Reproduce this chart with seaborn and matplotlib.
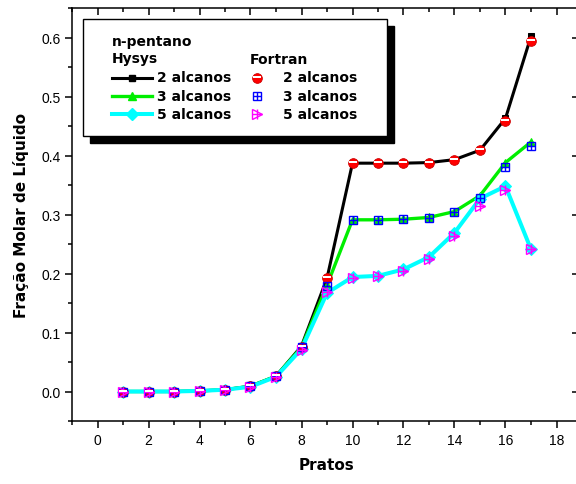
import matplotlib
matplotlib.use("Agg")
import matplotlib.pyplot as plt
import matplotlib.lines as mlines
import seaborn as sns
import pandas as pd
from matplotlib.lines import Line2D
from matplotlib.patches import Rectangle
from matplotlib.path import Path
from matplotlib.ticker import MultipleLocator, FormatStrFormatter

# Plate number along the column
pratos = list(range(1, 18))

# Liquid mole fraction of n-pentane, Hysys simulation
hysys_2 = [0.000, 0.000, 0.000, 0.001, 0.003, 0.009, 0.026, 0.077, 0.192,
           0.387, 0.387, 0.387, 0.388, 0.393, 0.409, 0.463, 0.602]
hysys_3 = [0.000, 0.000, 0.000, 0.001, 0.003, 0.009, 0.026, 0.075, 0.180,
           0.291, 0.291, 0.292, 0.295, 0.305, 0.332, 0.388, 0.423]
hysys_5 = [0.000, 0.000, 0.000, 0.001, 0.003, 0.008, 0.025, 0.072, 0.167,
           0.194, 0.196, 0.207, 0.228, 0.269, 0.327, 0.348, 0.241]

# Liquid mole fraction of n-pentane, Fortran program
fortran_2 = [0.000, 0.000, 0.000, 0.001, 0.003, 0.009, 0.026, 0.076, 0.193,
             0.387, 0.387, 0.387, 0.388, 0.392, 0.409, 0.458, 0.594]
fortran_3 = [0.000, 0.000, 0.000, 0.001, 0.003, 0.009, 0.026, 0.075, 0.179,
             0.291, 0.291, 0.292, 0.294, 0.304, 0.328, 0.380, 0.416]
fortran_5 = [0.000, 0.000, 0.000, 0.001, 0.003, 0.008, 0.025, 0.071, 0.168,
             0.193, 0.196, 0.205, 0.225, 0.263, 0.315, 0.341, 0.241]

series_labels = ["2 alcanos", "3 alcanos", "5 alcanos"]
x_ticks = [0, 2, 4, 6, 8, 10, 12, 14, 16, 18]

df = pd.DataFrame({"Pratos": pratos,
                   "h2": hysys_2, "h3": hysys_3, "h5": hysys_5,
                   "f2": fortran_2, "f3": fortran_3, "f5": fortran_5})

plt.rcParams["font.family"] = ["Liberation Sans", "DejaVu Sans"]
plt.rcParams["axes.linewidth"] = 1.1

W, H = 576, 485
fig = plt.figure(figsize=(W / 100, H / 100), dpi=100)


def fx(px):
    return px / W


def fy(py):
    return 1 - py / H


# axes box in pixels: left 72, right ~582 (just past the canvas edge), top 9, bottom 422
ax_l, ax_r, ax_t, ax_b = 72, 582, 9, 422
ax = fig.add_axes([fx(ax_l), fy(ax_b), (ax_r - ax_l) / W, (ax_b - ax_t) / H])
ax.set_facecolor("white")
ax.spines["right"].set_visible(False)

# half-moon highlight band for the Fortran 2-component circles
band = Path([(-0.8, 0.06), (0.8, 0.06), (0.8, 0.46), (-0.8, 0.46), (-0.8, 0.06)],
            [Path.MOVETO, Path.LINETO, Path.LINETO, Path.LINETO, Path.CLOSEPOLY])

hysys_styles = [
    ("h2", "black", "s", 5.0, 2.2),
    ("h3", "#00ee00", "^", 6.0, 2.4),
    ("h5", "#00ffff", "D", 6.0, 2.9),
]
for col, c, m, ms, lw in hysys_styles:
    sns.lineplot(data=df, x="Pratos", y=col, ax=ax, color=c, marker=m,
                 markersize=ms, linewidth=lw, markeredgecolor=c,
                 markerfacecolor=c, zorder=2)

circle_ms = 7.0
sns.lineplot(data=df, x="Pratos", y="f2", ax=ax, linestyle="none", marker="o",
             markersize=circle_ms, markerfacecolor="red", markeredgecolor="#cc0000",
             markeredgewidth=0.6, zorder=4)
sns.lineplot(data=df, x="Pratos", y="f2", ax=ax, linestyle="none", marker=band,
             markersize=circle_ms * 0.8, markerfacecolor="white",
             markeredgecolor="none", markeredgewidth=0, zorder=5)

sns.lineplot(data=df, x="Pratos", y="f3", ax=ax, linestyle="none", marker="s",
             markersize=6.2, markerfacecolor="none", markeredgecolor="#0000ff",
             markeredgewidth=1.0, zorder=4)
sns.lineplot(data=df, x="Pratos", y="f3", ax=ax, linestyle="none", marker="+",
             markersize=6.2, markeredgecolor="#0000ff", markeredgewidth=1.0, zorder=4)

sns.lineplot(data=df, x="Pratos", y="f5", ax=ax, linestyle="none", marker=">",
             markersize=7.0, markerfacecolor="none", markeredgecolor="#ff00ff",
             markeredgewidth=1.0, zorder=4)
sns.lineplot(data=df, x="Pratos", y="f5", ax=ax, linestyle="none", marker="+",
             markersize=7.0, markeredgecolor="#ff00ff", markeredgewidth=1.0, zorder=4)

ax.set_xlim(-1, 19)
ax.set_ylim(-0.05, 0.65)
ax.set_xticks(x_ticks)
ax.xaxis.set_minor_locator(MultipleLocator(1))
ax.yaxis.set_major_locator(MultipleLocator(0.1))
ax.yaxis.set_minor_locator(MultipleLocator(0.05))
ax.yaxis.set_major_formatter(FormatStrFormatter("%.1f"))
ax.tick_params(which="both", direction="out", width=1.1, labelsize=10,
               top=True, right=True, labeltop=False, labelright=False)
ax.tick_params(which="major", length=5)
ax.tick_params(which="minor", length=3)
ax.tick_params(axis="y", pad=3)
ax.tick_params(axis="x", pad=4)

# outward ticks on the left/bottom, inward ticks on the top/right
for t in ax.xaxis.get_major_ticks() + ax.xaxis.get_minor_ticks():
    t.tick2line.set_marker(mlines.TICKDOWN)
for t in ax.yaxis.get_major_ticks():
    t.tick2line.set_marker(mlines.TICKLEFT)
    t.tick2line.set_markersize(7.5)
for t in ax.yaxis.get_minor_ticks():
    t.tick2line.set_marker(mlines.TICKLEFT)

bold = dict(family="DejaVu Sans", fontweight="bold")
ax.set_xlabel("Pratos", fontsize=11, **bold)
ax.set_ylabel("Fração Molar de Líquido", fontsize=11, **bold)
ax.xaxis.set_label_coords(0.5, -0.087)
ax.yaxis.set_label_coords(-0.085, 0.5)

# legend panel with a solid drop shadow
bx0, by0, bx1, by1 = 83, 20, 387, 137
off = 7
fig.add_artist(Rectangle((fx(bx0 + off), fy(by1 + off)), (bx1 - bx0) / W, (by1 - by0) / H,
                         transform=fig.transFigure, facecolor="black",
                         edgecolor="black", zorder=10))
fig.add_artist(Rectangle((fx(bx0), fy(by1)), (bx1 - bx0) / W, (by1 - by0) / H,
                         transform=fig.transFigure, facecolor="white",
                         edgecolor="black", linewidth=1.0, zorder=11))

lfs = 10
fig.text(fx(112), fy(42), "n-pentano", fontsize=lfs, va="center", ha="left", zorder=12, **bold)
fig.text(fx(112), fy(59.5), "Hysys", fontsize=lfs, va="center", ha="left", zorder=12, **bold)
fig.text(fx(250), fy(59.5), "Fortran", fontsize=lfs, va="center", ha="left", zorder=12, **bold)

rows_y = [78.5, 97, 115]
for (col, c, m, ms, lw), label, ry in zip(hysys_styles, series_labels, rows_y):
    fig.add_artist(Line2D([fx(112), fx(152)], [fy(ry), fy(ry)], transform=fig.transFigure,
                          color=c, linewidth=lw, zorder=12))
    fig.add_artist(Line2D([fx(132)], [fy(ry)], transform=fig.transFigure, linestyle="none",
                          marker=m, markersize=ms, color=c, zorder=13))
    fig.text(fx(157), fy(ry), label, fontsize=lfs, va="center", ha="left", zorder=12, **bold)
    fig.text(fx(283), fy(ry), label, fontsize=lfs, va="center", ha="left", zorder=12, **bold)

mx = fx(257)
fig.add_artist(Line2D([mx], [fy(rows_y[0])], transform=fig.transFigure, linestyle="none",
                      marker="o", markersize=circle_ms, markerfacecolor="red",
                      markeredgecolor="#cc0000", markeredgewidth=0.6, zorder=13))
fig.add_artist(Line2D([mx], [fy(rows_y[0])], transform=fig.transFigure, linestyle="none",
                      marker=band, markersize=circle_ms * 0.8, markerfacecolor="white",
                      markeredgecolor="none", markeredgewidth=0, zorder=14))
for m, ms in [("s", 6.2), ("+", 6.2)]:
    fig.add_artist(Line2D([mx], [fy(rows_y[1])], transform=fig.transFigure, linestyle="none",
                          marker=m, markersize=ms, markerfacecolor="none",
                          markeredgecolor="#0000ff", markeredgewidth=1.0, zorder=13))
for m, ms in [(">", 7.0), ("+", 7.0)]:
    fig.add_artist(Line2D([mx], [fy(rows_y[2])], transform=fig.transFigure, linestyle="none",
                          marker=m, markersize=ms, markerfacecolor="none",
                          markeredgecolor="#ff00ff", markeredgewidth=1.0, zorder=13))

fig.savefig("out.png", dpi=100, facecolor="white")
